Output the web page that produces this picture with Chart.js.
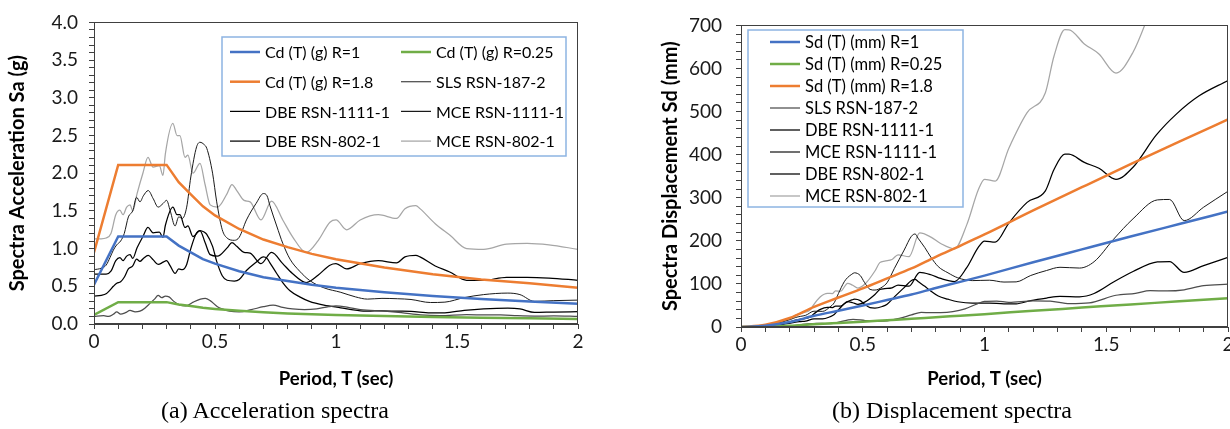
<!DOCTYPE html>
<html>
<head>
<meta charset="utf-8">
<script src="https://cdn.jsdelivr.net/npm/chart.js@4.4.1/dist/chart.umd.min.js"></script>
<style>
  html, body { margin: 0; padding: 0; background: #fff; overflow: hidden; }
  #wrap { position: relative; width: 1230px; height: 429px; overflow: hidden; background: #fff; }
  canvas { position: absolute; top: 0; }
  #accel { left: 0; width: 600px; height: 400px; }
  #disp { left: 630px; width: 620px; height: 400px; }
  .cap { position: absolute; top: 395px; width: 400px; text-align: center; white-space: nowrap;
         font-family: 'Liberation Serif', 'Times New Roman', serif; font-size: 24px; line-height: 30px; color: #000; }
</style>
</head>
<body>
<div id="wrap">
  <canvas id="accel" width="600" height="400"></canvas>
  <canvas id="disp" width="620" height="400"></canvas>
  <div class="cap" style="left:75px;">(a) Acceleration spectra</div>
  <div class="cap" style="left:752px;">(b) Displacement spectra</div>
</div>
<script>
// ---- Design spectra (Sa in g, Sd in mm) ----
const periodsDesignSa = [0, 0.1, 0.3, 0.35, 0.4, 0.45, 0.5, 0.6, 0.7, 0.8, 0.9, 1.0, 1.2, 1.4, 1.6, 1.8, 2.0];
const saR1   = [0.52, 1.16, 1.16, 1.04, 0.95, 0.86, 0.80, 0.70, 0.62, 0.57, 0.52, 0.48, 0.42, 0.37, 0.33, 0.30, 0.27];
const saR025 = [0.12, 0.29, 0.29, 0.26, 0.24, 0.215, 0.20, 0.175, 0.155, 0.14, 0.13, 0.12, 0.105, 0.092, 0.082, 0.075, 0.067];
const saR18  = [0.95, 2.11, 2.11, 1.88, 1.72, 1.56, 1.44, 1.26, 1.12, 1.02, 0.93, 0.86, 0.75, 0.66, 0.59, 0.54, 0.48];

const periodsDesignSd = [0, 0.1, 0.2, 0.3, 0.4, 0.5, 0.6, 0.7, 0.8, 0.9, 1.0, 1.2, 1.4, 1.6, 1.8, 2.0];
const sdR1   = [0, 2.9, 11.5, 25.9, 37.8, 49.7, 62.6, 75.5, 90.6, 104.7, 119.3, 150.3, 180.2, 209.9, 239, 268];
const sdR025 = [0, 0.7, 2.9, 6.5, 9.5, 12.4, 15.7, 18.9, 22.7, 26.2, 29.8, 37.6, 45, 52.5, 59.5, 67];
const sdR18  = [0, 5.2, 20.9, 46.9, 68.4, 89.6, 112.7, 136, 163, 188.5, 214.7, 270.5, 324.4, 377.8, 430, 482];

// ---- Record RSN-187-2 (SLS) ----
const periodsSls = [0, 0.04, 0.06, 0.08, 0.094, 0.11, 0.13, 0.149, 0.17, 0.19, 0.21, 0.23, 0.25, 0.265, 0.28, 0.295, 0.31, 0.33, 0.355, 0.38, 0.41, 0.44, 0.46, 0.48, 0.51, 0.53, 0.56, 0.6, 0.65, 0.7, 0.74, 0.78, 0.82, 0.87, 0.92, 0.97, 1.0, 1.05, 1.1, 1.2, 1.27, 1.35, 1.43, 1.54, 1.62, 1.68, 1.75, 1.82, 1.9, 2.0];
const saSls = [0.10, 0.11, 0.10, 0.13, 0.16, 0.13, 0.15, 0.18, 0.16, 0.17, 0.21, 0.27, 0.33, 0.38, 0.35, 0.37, 0.36, 0.30, 0.25, 0.24, 0.29, 0.33, 0.34, 0.31, 0.23, 0.20, 0.17, 0.16, 0.19, 0.23, 0.25, 0.22, 0.20, 0.19, 0.20, 0.23, 0.24, 0.22, 0.19, 0.17, 0.15, 0.12, 0.11, 0.125, 0.12, 0.12, 0.11, 0.105, 0.107, 0.10];
const sdPeriodsSls = [0, 0.1, 0.2, 0.265, 0.31, 0.355, 0.38, 0.46, 0.51, 0.56, 0.6, 0.65, 0.7, 0.74, 0.78, 0.82, 0.87, 0.92, 0.97, 1.0, 1.05, 1.1, 1.2, 1.27, 1.35, 1.43, 1.54, 1.62, 1.68, 1.75, 1.82, 1.9, 2.0];
const sdSls = [0, 0.37, 1.8, 6.6, 8.6, 7.8, 8.6, 17.9, 14.9, 13.2, 14.3, 19.9, 28, 34, 33.3, 33.4, 35.7, 42.1, 53.8, 59.6, 60.3, 57.1, 60.8, 60.1, 54.3, 55.9, 73.7, 78.3, 84.2, 83.7, 86.4, 96, 99.4];

// ---- Record RSN-1111-1 (DBE and MCE levels) ----
const periods1111 = [0, 0.03, 0.05, 0.066, 0.08, 0.094, 0.11, 0.125, 0.142, 0.16, 0.176, 0.19, 0.204, 0.224, 0.245, 0.265, 0.286, 0.30, 0.315, 0.335, 0.35, 0.365, 0.383, 0.40, 0.424, 0.438, 0.455, 0.466, 0.49, 0.507, 0.53, 0.55, 0.58, 0.60, 0.63, 0.67, 0.70, 0.715, 0.727, 0.755, 0.78, 0.81, 0.85, 0.89, 0.95, 1.02, 1.08, 1.13, 1.19, 1.255, 1.31, 1.39, 1.45, 1.53, 1.61, 1.71, 1.76, 1.82, 1.9, 2.0];
const saMce1111 = [0.72, 0.74, 0.78, 0.88, 0.98, 1.05, 1.10, 1.20, 1.42, 1.50, 1.68, 1.62, 1.70, 1.77, 1.66, 1.55, 1.60, 1.64, 1.50, 1.30, 1.42, 1.40, 1.55, 1.95, 2.35, 2.41, 2.38, 2.33, 2.00, 1.62, 1.25, 1.14, 1.11, 1.15, 1.38, 1.60, 1.73, 1.70, 1.57, 1.30, 1.07, 0.86, 0.70, 0.58, 0.48, 0.42, 0.36, 0.33, 0.34, 0.335, 0.325, 0.285, 0.29, 0.35, 0.39, 0.41, 0.39, 0.30, 0.31, 0.317];
const saDbe1111 = [0.37, 0.38, 0.40, 0.45, 0.50, 0.54, 0.56, 0.62, 0.73, 0.77, 0.86, 0.83, 0.87, 0.91, 0.85, 0.79, 0.82, 0.84, 0.77, 0.67, 0.73, 0.72, 0.79, 1.00, 1.21, 1.24, 1.22, 1.19, 1.03, 0.83, 0.64, 0.58, 0.57, 0.59, 0.71, 0.82, 0.89, 0.87, 0.81, 0.67, 0.55, 0.44, 0.36, 0.30, 0.25, 0.215, 0.185, 0.17, 0.175, 0.17, 0.167, 0.146, 0.149, 0.18, 0.20, 0.21, 0.20, 0.154, 0.159, 0.163];
const sdPeriods1111 = [0, 0.066, 0.094, 0.125, 0.16, 0.176, 0.204, 0.224, 0.245, 0.265, 0.30, 0.335, 0.365, 0.383, 0.40, 0.424, 0.438, 0.455, 0.466, 0.49, 0.507, 0.53, 0.55, 0.58, 0.60, 0.63, 0.67, 0.70, 0.715, 0.727, 0.755, 0.78, 0.81, 0.85, 0.89, 0.95, 1.02, 1.08, 1.13, 1.19, 1.255, 1.31, 1.39, 1.45, 1.53, 1.61, 1.71, 1.76, 1.82, 1.9, 2.0];
const sdMce1111 = [0, 0.95, 2.3, 4.7, 9.5, 12.9, 17.6, 22.1, 24.8, 27, 36.7, 36.3, 46.3, 56.5, 77.5, 105, 114.9, 122.4, 125.8, 119.3, 103.5, 87.3, 85.7, 92.8, 102.9, 136.1, 178.5, 210.7, 215.9, 206.2, 184.2, 161.8, 140.2, 125.7, 114.2, 107.7, 108.6, 104.3, 104.7, 119.6, 131.1, 138.6, 136.8, 151.5, 203.6, 251.2, 295, 296, 246.9, 278.1, 315.1];
const sdDbe1111 = [0, 0.49, 1.2, 2.4, 4.9, 6.6, 9.0, 11.3, 12.7, 13.8, 18.8, 18.6, 23.7, 29.0, 39.7, 53.8, 58.9, 62.8, 64.5, 61.2, 53.1, 44.8, 43.9, 47.6, 52.8, 69.8, 91.5, 108.0, 110.7, 105.7, 94.5, 83.0, 71.9, 64.5, 58.6, 55.2, 55.7, 53.5, 53.7, 61.3, 67.2, 71.1, 70.2, 77.7, 104.4, 128.8, 151, 152, 126.6, 142.6, 161.6];

// ---- Record RSN-802-1 (DBE and MCE levels) ----
const periods802 = [0, 0.03, 0.05, 0.07, 0.09, 0.107, 0.12, 0.135, 0.149, 0.16, 0.178, 0.202, 0.223, 0.244, 0.27, 0.285, 0.295, 0.326, 0.343, 0.355, 0.376, 0.388, 0.409, 0.438, 0.459, 0.48, 0.51, 0.55, 0.57, 0.59, 0.62, 0.645, 0.69, 0.734, 0.78, 0.82, 0.877, 0.927, 0.975, 1.0, 1.044, 1.10, 1.175, 1.25, 1.285, 1.33, 1.347, 1.41, 1.47, 1.54, 1.61, 1.705, 1.79, 1.88, 2.0];
const saMce802 = [1.13, 1.13, 1.14, 1.20, 1.45, 1.51, 1.45, 1.55, 1.58, 1.50, 1.73, 2.00, 2.21, 2.08, 2.10, 1.97, 2.26, 2.66, 2.50, 2.50, 2.21, 2.24, 2.00, 2.13, 1.85, 1.58, 1.55, 1.73, 1.85, 1.77, 1.64, 1.62, 1.38, 1.63, 1.38, 1.16, 0.95, 1.11, 1.35, 1.38, 1.25, 1.38, 1.45, 1.40, 1.53, 1.57, 1.53, 1.33, 1.18, 1.00, 0.99, 1.06, 1.07, 1.05, 0.99];
const saDbe802 = [0.66, 0.66, 0.66, 0.70, 0.84, 0.88, 0.84, 0.90, 0.92, 0.87, 1.01, 1.16, 1.28, 1.21, 1.22, 1.15, 1.31, 1.55, 1.45, 1.45, 1.28, 1.30, 1.16, 1.24, 1.08, 0.92, 0.90, 1.01, 1.08, 1.03, 0.95, 0.94, 0.80, 0.95, 0.80, 0.67, 0.55, 0.65, 0.78, 0.80, 0.73, 0.80, 0.84, 0.81, 0.89, 0.91, 0.89, 0.77, 0.69, 0.58, 0.58, 0.62, 0.62, 0.61, 0.58];
const sdPeriods802 = [0, 0.1, 0.15, 0.2, 0.223, 0.25, 0.285, 0.295, 0.326, 0.355, 0.376, 0.388, 0.409, 0.438, 0.459, 0.48, 0.51, 0.55, 0.57, 0.59, 0.62, 0.645, 0.69, 0.734, 0.78, 0.82, 0.877, 0.927, 0.975, 1.0, 1.044, 1.10, 1.175, 1.25, 1.285, 1.33, 1.347, 1.41, 1.47, 1.54, 1.61, 1.705, 1.79, 1.88, 2.0];
const sdMce802 = [0, 3.7, 8.8, 19.4, 27.3, 32.3, 39.8, 48.9, 70.3, 78.3, 77.6, 83.8, 83.1, 101.5, 96.9, 90.5, 100.2, 130, 149.4, 153, 156.6, 167.5, 163.3, 218.2, 208.6, 193.8, 181.6, 237, 318.9, 342.9, 338.6, 415, 497.5, 543.6, 627.8, 690, 689.8, 657, 633.7, 589.4, 637.7, 765.8, 852, 922, 984];
const sdDbe802 = [0, 2.2, 5.1, 11.3, 15.9, 18.8, 23.1, 28.4, 40.9, 45.5, 45.1, 48.7, 48.3, 59.0, 56.3, 52.6, 58.3, 75.6, 86.9, 89.0, 91.0, 97.4, 94.9, 126.9, 121.3, 112.7, 105.6, 137.8, 185.4, 199.4, 196.9, 241.3, 289.2, 316.0, 365.0, 401.2, 401.0, 382.0, 368.4, 342.7, 370.8, 445.2, 495.3, 536.0, 572.1];

// ---- Axis tick labels ----
const periodTickLabels = ['0', '0.5', '1', '1.5', '2'];
const saTickLabels = ['0.0', '0.5', '1.0', '1.5', '2.0', '2.5', '3.0', '3.5', '4.0'];
const sdTickLabels = ['0', '100', '200', '300', '400', '500', '600', '700'];

const FONT = "Lato, 'Noto Sans', 'DejaVu Sans', sans-serif";
const BLUE = '#4472C4', GREEN = '#70AD47', ORANGE = '#ED7D31';

const pts = (xs, ys) => xs.map((x, i) => ({ x: x, y: ys[i] }));

function series(label, xs, ys, color, width, smooth) {
  return {
    label: label,
    data: pts(xs, ys),
    borderColor: color,
    backgroundColor: color,
    borderWidth: width,
    pointRadius: 0,
    pointHoverRadius: 0,
    fill: false,
    tension: 0,
    cubicInterpolationMode: smooth ? 'monotone' : 'default'
  };
}

// labelled ticks every `major`, small marks at every minor step
function labelAt(v, major, labels) {
  const k = v / major;
  const r = Math.round(k);
  return Math.abs(k - r) < 1e-6 ? (labels[r] !== undefined ? labels[r] : '') : '';
}

function xAxis(height) {
  return {
    type: 'linear', min: 0, max: 2,
    ticks: {
      stepSize: 0.1, autoSkip: false, maxRotation: 0, minRotation: 0, padding: 1,
      color: '#1a1a1a', font: { family: FONT, size: 19 },
      callback: v => labelAt(v, 0.5, periodTickLabels)
    },
    grid: { drawOnChartArea: false, drawTicks: true, tickLength: 5, color: '#404040', tickColor: '#404040', tickWidth: 1 },
    border: { display: true, color: '#404040', width: 1 },
    title: {
      display: true, text: 'Period, T (sec)', color: '#000',
      font: { family: FONT, size: 18.5, weight: 'bold' }, padding: { top: 0, bottom: 10 }
    },
    afterFit: s => { s.height = height; }
  };
}

function yAxis(max, minor, major, labels, title, width, labelPad, titlePad) {
  return {
    type: 'linear', min: 0, max: max,
    ticks: {
      stepSize: minor, autoSkip: false, padding: labelPad,
      color: '#1a1a1a', font: { family: FONT, size: 19 },
      callback: v => labelAt(v, major, labels)
    },
    grid: { drawOnChartArea: false, drawTicks: true, tickLength: 5, color: '#404040', tickColor: '#404040', tickWidth: 1 },
    border: { display: true, color: '#404040', width: 1 },
    title: {
      display: true, text: title, color: '#000',
      font: { family: FONT, size: 20, weight: 'bold' }, padding: { top: titlePad, bottom: 0 }
    },
    afterFit: s => { s.width = width; }
  };
}

// plot frame plus a boxed key laid out in a grid
const frameAndKey = {
  id: 'frameAndKey',
  afterDraw(chart, args, o) {
    const ctx = chart.ctx, a = chart.chartArea;
    ctx.save();
    ctx.strokeStyle = '#404040';
    ctx.lineWidth = 1;
    ctx.strokeRect(Math.round(a.left) + 0.5, Math.round(a.top) + 0.5,
                   Math.round(a.right - a.left) - 1, Math.round(a.bottom - a.top) - 1);

    ctx.fillStyle = '#fff';
    ctx.fillRect(o.x, o.y, o.w, o.h);
    ctx.strokeStyle = '#8DB4E2';
    ctx.lineWidth = 1.5;
    ctx.strokeRect(o.x, o.y, o.w, o.h);

    ctx.font = o.font;
    ctx.textBaseline = 'middle';
    ctx.textAlign = 'left';
    chart.data.datasets.forEach((ds, i) => {
      const col = i % o.cols, row = Math.floor(i / o.cols);
      const lx = o.x + o.padX + col * o.colW;
      const ly = o.y + o.padY + row * o.rowH;
      ctx.strokeStyle = ds.borderColor;
      ctx.lineWidth = Math.max(ds.borderWidth, 1.25);
      ctx.beginPath();
      ctx.moveTo(lx, ly);
      ctx.lineTo(lx + o.lineLen, ly);
      ctx.stroke();
      ctx.fillStyle = '#000';
      ctx.fillText(ds.label, lx + o.lineLen + 5, ly + 1);
    });
    ctx.restore();
  }
};

Chart.register(frameAndKey);

// (a) acceleration spectra
new Chart(document.getElementById('accel'), {
  type: 'line',
  data: {
    datasets: [
      series('Cd (T) (g) R=1', periodsDesignSa, saR1, BLUE, 2.5, false),
      series('Cd (T) (g) R=0.25', periodsDesignSa, saR025, GREEN, 2.5, false),
      series('Cd (T) (g) R=1.8', periodsDesignSa, saR18, ORANGE, 2.5, false),
      series('SLS RSN-187-2', periodsSls, saSls, '#4d4d4d', 1.25, true),
      series('DBE RSN-1111-1', periods1111, saDbe1111, '#000000', 1.25, true),
      series('MCE RSN-1111-1', periods1111, saMce1111, '#1a1a1a', 1, true),
      series('DBE RSN-802-1', periods802, saDbe802, '#000000', 1.25, true),
      series('MCE RSN-802-1', periods802, saMce802, '#A6A6A6', 1.25, true)
    ]
  },
  options: {
    responsive: false, animation: false, events: [],
    layout: { padding: { top: 22, right: 22, left: 0, bottom: 0 } },
    scales: {
      x: xAxis(76),
      y: yAxis(4, 0.1, 0.5, saTickLabels, 'Spectra Acceleration Sa (g)', 94, 11, 6)
    },
    plugins: {
      legend: { display: false }, tooltip: { enabled: false },
      frameAndKey: { x: 222, y: 37, w: 344, h: 119, cols: 2, colW: 171, rowH: 29.7, padX: 8, padY: 15, lineLen: 30,
                     font: "16px " + FONT }
    }
  }
});

// (b) displacement spectra
new Chart(document.getElementById('disp'), {
  type: 'line',
  data: {
    datasets: [
      series('Sd (T) (mm) R=1', periodsDesignSd, sdR1, BLUE, 2.5, true),
      series('Sd (T) (mm) R=0.25', periodsDesignSd, sdR025, GREEN, 2.5, true),
      series('Sd (T) (mm) R=1.8', periodsDesignSd, sdR18, ORANGE, 2.5, true),
      series('SLS RSN-187-2', sdPeriodsSls, sdSls, '#4d4d4d', 1.25, true),
      series('DBE RSN-1111-1', sdPeriods1111, sdDbe1111, '#000000', 1.25, true),
      series('MCE RSN-1111-1', sdPeriods1111, sdMce1111, '#1a1a1a', 1, true),
      series('DBE RSN-802-1', sdPeriods802, sdDbe802, '#000000', 1.25, true),
      series('MCE RSN-802-1', sdPeriods802, sdMce802, '#A6A6A6', 1.25, true)
    ]
  },
  options: {
    responsive: false, animation: false, events: [],
    layout: { padding: { top: 22, right: 22, left: 0, bottom: 0 } },
    scales: {
      x: xAxis(73),
      y: yAxis(700, 20, 100, sdTickLabels, 'Spectra Displacement Sd (mm)', 111, 14, 29)
    },
    plugins: {
      legend: { display: false }, tooltip: { enabled: false },
      frameAndKey: { x: 118, y: 30, w: 215, h: 177, cols: 1, colW: 0, rowH: 22, padX: 22, padY: 12, lineLen: 30,
                     font: "16.5px " + FONT }
    }
  }
});
</script>
</body>
</html>
